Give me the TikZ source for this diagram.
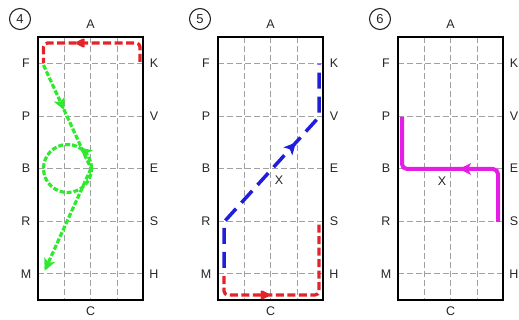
\documentclass[tikz,border=0pt]{standalone}
\usepackage{fontspec}
\setmainfont{Liberation Sans}
\usetikzlibrary{arrows.meta,decorations.markings}
\definecolor{redp}{HTML}{E3242B}
\definecolor{greenp}{HTML}{2EEA2E}
\definecolor{bluep}{HTML}{1E1EDC}
\definecolor{magp}{HTML}{E41EE4}
\definecolor{gridc}{HTML}{A0A0A0}
\begin{document}
\begin{tikzpicture}[x=1pt,y=-1pt,
  gridln/.style={draw=gridc, line width=0.7pt, dash pattern=on 6pt off 3pt},
  frame/.style={draw=black, line width=2pt},
  lbl/.style={font=\fontsize{12.5}{13}\selectfont, text=black!85, inner sep=0pt},
  numc/.style={circle, draw=black!85, line width=1.1pt, minimum size=21pt, inner sep=0pt, font=\fontsize{13}{14}\selectfont, text=black!85},
  redpath/.style={color=redp, draw, line width=3.2pt, dash pattern=on 8pt off 3.5pt, rounded corners=4pt},
  greenpath/.style={color=greenp, draw, line width=3.2pt, dash pattern=on 5pt off 2pt},
  bluepath/.style={color=bluep, draw, line width=3.5pt, dash pattern=on 16pt off 8pt},
  magpath/.style={color=magp, draw, line width=4pt, rounded corners=5pt},
  midarrow/.style={postaction={decorate}, decoration={markings, mark=at position #1 with {\fill[solid] (4pt,0pt) -- (-8pt,6pt) -- (-5pt,0pt) -- (-8pt,-6pt) -- cycle;}}}
]
\useasboundingbox (0,0) rectangle (519,320);

\foreach \o/\n in {0/4,180/5,360/6} {
  \begin{scope}[xshift=\o pt]
    \foreach \c in {1,2,3}
      \draw[gridln] (38+26.3*\c,37) -- (38+26.3*\c,300);
    \foreach \r in {1,3,5,7,9}
      \draw[gridln] (38,37+26.3*\r) -- (143.2,37+26.3*\r);
    \draw[frame] (38,37) rectangle (143.2,300);
    \node[numc] (num\n) at (20,19) {\n};
    \node[lbl] (A\n) at (90.6,24.5) {A};
    \node[lbl] (C\n) at (90.6,311) {C};
    \node[lbl] (F\n) at (26,63.3) {F};
    \node[lbl] (P\n) at (26,115.9) {P};
    \node[lbl] (B\n) at (26,168.5) {B};
    \node[lbl] (R\n) at (26,221.1) {R};
    \node[lbl] (M\n) at (26,273.7) {M};
    \node[lbl] (K\n) at (154,63.3) {K};
    \node[lbl] (V\n) at (154,115.9) {V};
    \node[lbl] (E\n) at (154,168.5) {E};
    \node[lbl] (S\n) at (154,221.1) {S};
    \node[lbl] (H\n) at (154,273.7) {H};
  \end{scope}
}

% Panel 4
\coordinate (r4a) at (140,62);
\coordinate (r4b) at (140,43);
\coordinate (r4c) at (43.5,43);
\coordinate (r4d) at (43.5,63);
\draw[redpath, midarrow=0.6] (r4a) -- (r4b) -- (r4c) -- (r4d);
\coordinate (g4f) at (43.5,65);
\coordinate (g4x) at (91,168.5);
\coordinate (g4m) at (45,270);
\coordinate (g4c) at (67.5,168.5);
\coordinate (g4t1) at (86,152.5);
\coordinate (g4t2) at (83,150);
\draw[greenpath, midarrow=0.4] (g4f) -- (g4x);
\draw[greenpath] (g4c) circle[radius=24pt];
\draw[greenpath, midarrow=0.97] (g4x) -- (g4m);
\path[color=greenp, midarrow=1] (g4t1) -- (g4t2);

% Panel 5
\coordinate (b5k) at (319,64);
\coordinate (b5v) at (319,117);
\coordinate (b5r) at (224,222);
\coordinate (b5m) at (224,268);
\draw[bluepath, midarrow=0.62] (b5m) -- (b5r) -- (b5v) -- (b5k);
\node[lbl] (X5) at (279,180) {X};
\coordinate (r5a) at (224,276);
\coordinate (r5b) at (224,295);
\coordinate (r5c) at (319,295);
\coordinate (r5d) at (319,222);
\draw[redpath, midarrow=0.33] (r5a) -- (r5b) -- (r5c) -- (r5d);

% Panel 6
\coordinate (m6p) at (402,117);
\coordinate (m6b) at (402,169);
\coordinate (m6e) at (498,169);
\coordinate (m6s) at (498,222);
\draw[magpath] (m6p) -- (m6b) -- (m6e) -- (m6s);
\path[color=magp, midarrow=1] (m6e) ++(-30,0) -- ++(-5,0);
\node[lbl] (X6) at (442,181) {X};
\end{tikzpicture}
\end{document}
